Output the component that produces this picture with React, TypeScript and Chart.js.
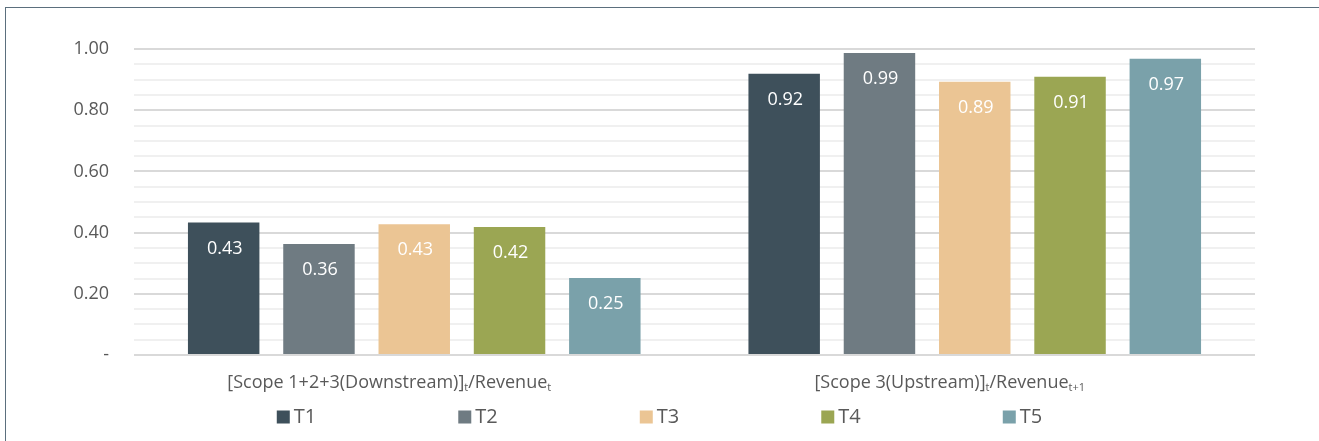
import React, { useEffect, useRef } from "react";
import { Chart, registerables } from "chart.js";

Chart.register(...registerables);

const categories: string[] = [
  "[Scope 1+2+3(Downstream)]_{t}/Revenue_{t}",
  "[Scope 3(Upstream)]_{t}/Revenue_{t+1}",
];
const seriesNames: string[] = ["T1", "T2", "T3", "T4", "T5"];
const t1: number[] = [0.433, 0.919];
const t2: number[] = [0.363, 0.987];
const t3: number[] = [0.427, 0.893];
const t4: number[] = [0.418, 0.909];
const t5: number[] = [0.252, 0.968];
const seriesColors: string[] = ["#3e505b", "#6f7b82", "#ebc594", "#9ba653", "#7aa1aa"];
const yTickMajor: number[] = [0, 0.2, 0.4, 0.6, 0.8, 1.0];

const FONT = "'Open Sans', 'Noto Sans', sans-serif";
const TEXT = "#595959";

const isMajor = (v: number) => yTickMajor.some((m) => Math.abs(m - v) < 1e-6);

function parseRich(s: string): { t: string; sub: boolean }[] {
  const out: { t: string; sub: boolean }[] = [];
  const re = /_\{([^}]*)\}/g;
  let last = 0;
  let m: RegExpExecArray | null;
  while ((m = re.exec(s))) {
    if (m.index > last) out.push({ t: s.slice(last, m.index), sub: false });
    out.push({ t: m[1], sub: true });
    last = m.index + m[0].length;
  }
  if (last < s.length) out.push({ t: s.slice(last), sub: false });
  return out;
}

const valueLabels = {
  id: "valueLabels",
  afterDatasetsDraw(chart: any) {
    const ctx = chart.ctx;
    ctx.save();
    ctx.font = `18px ${FONT}`;
    ctx.fillStyle = "#ffffff";
    ctx.textAlign = "center";
    ctx.textBaseline = "middle";
    chart.data.datasets.forEach((ds: any, i: number) => {
      const meta = chart.getDatasetMeta(i);
      meta.data.forEach((el: any, j: number) => {
        const v = ds.data[j] as number;
        ctx.fillText(v.toFixed(2), el.x + 1, el.y + 26);
      });
    });
    ctx.restore();
  },
};

const richCategoryLabels = {
  id: "richCategoryLabels",
  afterDraw(chart: any) {
    const ctx = chart.ctx;
    const xs = chart.scales.x;
    const bottom = chart.chartArea.bottom;
    ctx.save();
    ctx.fillStyle = TEXT;
    ctx.textAlign = "left";
    ctx.textBaseline = "alphabetic";
    const mainFont = `18px ${FONT}`;
    const subFont = `11px ${FONT}`;
    (chart.data.labels as string[]).forEach((lab, i) => {
      const parts = parseRich(lab);
      let total = 0;
      const widths = parts.map((p) => {
        ctx.font = p.sub ? subFont : mainFont;
        const w = ctx.measureText(p.t).width;
        total += w;
        return w;
      });
      let x = xs.getPixelForValue(i) - 25 - total / 2;
      const base = bottom + 33;
      parts.forEach((p, k) => {
        ctx.font = p.sub ? subFont : mainFont;
        ctx.fillText(p.t, x, p.sub ? base + 3 : base);
        x += widths[k];
      });
    });
    ctx.restore();
  },
};

const bottomLegend = {
  id: "bottomLegend",
  afterDraw(chart: any) {
    const ctx = chart.ctx;
    const items = chart.data.datasets;
    const pitch = 181.5;
    const box = 13;
    const gap = 4;
    ctx.save();
    ctx.font = `20px ${FONT}`;
    ctx.textAlign = "left";
    ctx.textBaseline = "middle";
    const lastW = ctx.measureText(items[items.length - 1].label).width;
    const total = (items.length - 1) * pitch + box + gap + lastW;
    const start = chart.width / 2 - total / 2;
    const yc = chart.chartArea.bottom + 62;
    items.forEach((ds: any, i: number) => {
      const x = start + i * pitch;
      ctx.fillStyle = ds.backgroundColor;
      ctx.fillRect(x, yc - box / 2, box, box);
      ctx.fillStyle = TEXT;
      ctx.fillText(ds.label, x + box + gap, yc);
    });
    ctx.restore();
  },
};

export default function App() {
  const ref = useRef<HTMLCanvasElement | null>(null);

  useEffect(() => {
    if (!ref.current) return;
    const series = [t1, t2, t3, t4, t5];
    const chart = new Chart(ref.current, {
      type: "bar",
      data: {
        labels: categories,
        datasets: series.map((d, i) => ({
          label: seriesNames[i],
          data: d,
          backgroundColor: seriesColors[i],
          borderWidth: 0,
          categoryPercentage: 0.85,
          barPercentage: 0.75,
        })),
      },
      options: {
        animation: false,
        responsive: true,
        maintainAspectRatio: false,
        layout: { padding: { top: 41, right: 56, bottom: 86, left: 0 } },
        plugins: {
          legend: { display: false },
          tooltip: { enabled: false },
        },
        scales: {
          x: {
            display: false,
          },
          y: {
            min: 0,
            max: 1,
            afterFit: (s: any) => {
              s.width = 126;
            },
            border: { display: false },
            grid: {
              drawTicks: false,
              lineWidth: 2,
              color: (c: any) => (c.tick && isMajor(c.tick.value) ? "#d9d9d9" : "#f0f0f0"),
            },
            ticks: {
              stepSize: 0.05,
              autoSkip: false,
              padding: 25,
              color: TEXT,
              font: { family: FONT, size: 18 },
              callback: (v: any) => {
                const n = Number(v);
                if (!isMajor(n)) return "";
                if (Math.abs(n) < 1e-9) return "-";
                return n.toFixed(2);
              },
            },
          },
        },
      },
      plugins: [valueLabels, richCategoryLabels, bottomLegend],
    });
    return () => chart.destroy();
  }, []);

  return (
    <div style={{ position: "fixed", left: 0, top: 0, width: 1319, height: 441, background: "#ffffff", overflow: "hidden" }}>
      <div
        style={{
          position: "absolute",
          left: 5,
          top: 7,
          width: 1330,
          height: 450,
          border: "1.5px solid #5b6f7d",
          boxSizing: "border-box",
        }}
      />
      <div style={{ position: "absolute", left: 8, top: 8, width: 1303, height: 433 }}>
        <canvas ref={ref} />
      </div>
    </div>
  );
}
